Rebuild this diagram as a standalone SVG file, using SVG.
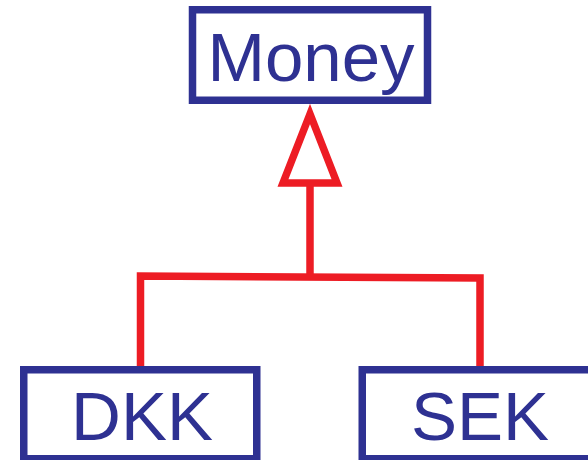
<svg xmlns="http://www.w3.org/2000/svg" width="588" height="460" viewBox="0 0 588 460">
<style>
.box{fill:#fff;stroke:#2E3192;stroke-width:7.5}
.lbl{font-family:"Liberation Sans",Arial,sans-serif;font-size:69px;fill:#2E3192;text-anchor:middle}
.conn{fill:none;stroke:#ED1C24;stroke-width:7.5}
</style>
<rect width="588" height="460" fill="#fff"/>
<g id="connectors">
<path class="conn" d="M140.5 373 V276 L480 278 V374"/>
<path class="conn" d="M310 186 V277"/>
<polygon class="conn" points="310,114 283,183 337,183" stroke-miterlimit="10"/>
</g>
<g id="money">
<rect class="box" x="192.5" y="9.75" width="235" height="90.5"/>
<text class="lbl" x="311" y="81">Money</text>
</g>
<g id="dkk">
<rect class="box" x="23.75" y="369.75" width="233" height="89"/>
<text class="lbl" x="142" y="440">DKK</text>
</g>
<g id="sek">
<rect class="box" x="362.25" y="369.75" width="240" height="89"/>
<text class="lbl" x="480" y="440">SEK</text>
</g>
</svg>
